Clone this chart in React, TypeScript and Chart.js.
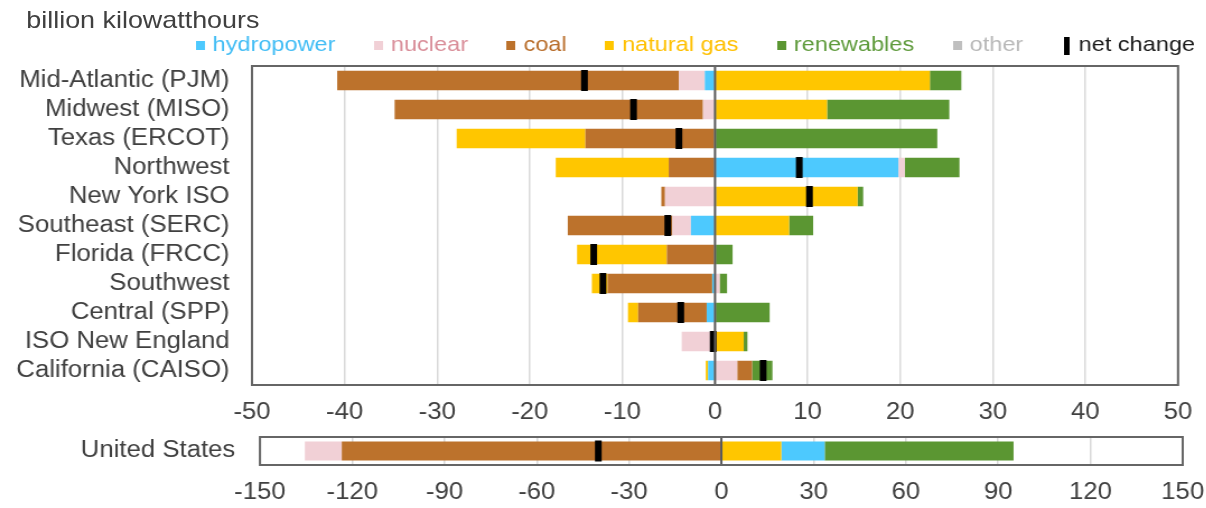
import React, { useEffect, useRef } from "react";
import { Chart, registerables } from "chart.js";

Chart.register(...registerables);

// ---------------- data ----------------
const regions = [
  "Mid-Atlantic (PJM)",
  "Midwest (MISO)",
  "Texas (ERCOT)",
  "Northwest",
  "New York ISO",
  "Southeast (SERC)",
  "Florida (FRCC)",
  "Southwest",
  "Central (SPP)",
  "ISO New England",
  "California (CAISO)",
];
const hydropower = [-1.1, 0, 0, 19.8, 0.1, -2.6, 0, -0.3, -0.9, 0, -0.75];
const nuclear = [-2.8, -1.3, 0, 0.7, -5.4, -2.0, 0, 0.5, 0, -3.6, 2.4];
const coal = [-36.9, -33.3, -14.0, -5.0, -0.4, -11.3, -5.2, -11.3, -7.4, 0, 1.6];
const naturalGas = [23.2, 12.1, -13.9, -12.2, 15.3, 8.0, -9.7, -1.7, -1.1, 3.1, -0.25];
const renewables = [3.4, 13.2, 24.0, 5.9, 0.6, 2.6, 1.9, 0.8, 5.9, 0.4, 2.2];
const other = [0, 0, 0, 0, 0, 0, 0, 0, 0, 0, 0];
const netChange = [-14.1, -8.8, -3.9, 9.1, 10.2, -5.1, -13.1, -12.1, -3.7, -0.2, 5.2];
const regionTickValues = [-50, -40, -30, -20, -10, 0, 10, 20, 30, 40, 50];

const usCategory = ["United States"];
const usHydropower = [14.1];
const usNuclear = [-12.0];
const usCoal = [-123.4];
const usNaturalGas = [19.5];
const usRenewables = [61.4];
const usOther = [0];
const usNetChange = [-40.0];
const usTickValues = [-150, -120, -90, -60, -30, 0, 30, 60, 90, 120, 150];

const seriesNames = ["hydropower", "nuclear", "coal", "natural gas", "renewables", "other", "net change"];
const unitLabel = "billion kilowatthours";

// ---------------- styles ----------------
const seriesColors = ["#4dc9fe", "#f1d0d6", "#bc722c", "#ffc600", "#5b9632", "#bfbfbf", "#000000"];
const legendTextColors = ["#42bdf5", "#d98e99", "#b86d2a", "#ffc000", "#5f9b3c", "#b8b8b8", "#1a1a1a"];
const S = 1.12;
const LW = 1206 / S;
const FONT = '"Liberation Sans", Arial, sans-serif';
const TEXT = "#404040";

const TOP_CANVAS_Y = -5;
const TOP_W = 1105;
const TOP_H = 440;

const framePlugin = {
  id: "frameAndZero",
  afterDatasetsDraw(chart: any) {
    const { ctx, chartArea: a, scales } = chart;
    const x0 = scales.x.getPixelForValue(0);
    ctx.save();
    ctx.strokeStyle = "#595959";
    ctx.lineWidth = 2;
    ctx.beginPath();
    ctx.moveTo(x0, a.top);
    ctx.lineTo(x0, a.bottom);
    ctx.stroke();
    ctx.strokeStyle = "#666666";
    ctx.lineWidth = 2;
    ctx.strokeRect(a.left, a.top, a.right - a.left, a.bottom - a.top);
    ctx.restore();
  },
};

function makeIcon(w: number, h: number, color: string) {
  const c = document.createElement("canvas");
  c.width = w;
  c.height = h;
  const g = c.getContext("2d")!;
  g.fillStyle = color;
  g.fillRect(0, 0, w, h);
  return c;
}

function barDs(label: string, data: number[], color: string, pct: number) {
  return {
    type: "bar" as const,
    label,
    data,
    backgroundColor: color,
    borderWidth: 0,
    barPercentage: pct,
    categoryPercentage: 1,
    order: 1,
  };
}

function netDs(data: number[]) {
  return {
    type: "line" as const,
    label: seriesNames[6],
    data,
    showLine: false,
    pointStyle: "line",
    pointRotation: 90,
    pointRadius: 10.5,
    pointBorderWidth: 6,
    pointBorderColor: "#000",
    pointBackgroundColor: "#000",
    borderColor: "#000",
    backgroundColor: "#000",
    stack: "net",
    order: 0,
  };
}

function gridColor(c: any) {
  return c.tick && c.tick.value === 0 ? "rgba(0,0,0,0)" : "#d9d9d9";
}

export default function App() {
  const topRef = useRef<HTMLCanvasElement>(null);
  const botRef = useRef<HTMLCanvasElement>(null);

  useEffect(() => {
    const icons = seriesColors.map((c, i) => (i === 6 ? makeIcon(5, 18, c) : makeIcon(8, 9, c)));
    const legendItems = () =>
      seriesNames.map((name, i) => ({
        text: name,
        fillStyle: seriesColors[i],
        strokeStyle: seriesColors[i],
        lineWidth: 0,
        pointStyle: icons[i],
        fontColor: legendTextColors[i],
        hidden: false,
        datasetIndex: i,
      }));

    const top = new Chart(topRef.current!, {
      type: "bar",
      data: {
        labels: regions,
        datasets: [
          barDs(seriesNames[0], hydropower, seriesColors[0], 0.67),
          barDs(seriesNames[1], nuclear, seriesColors[1], 0.67),
          barDs(seriesNames[2], coal, seriesColors[2], 0.67),
          barDs(seriesNames[3], naturalGas, seriesColors[3], 0.67),
          barDs(seriesNames[4], renewables, seriesColors[4], 0.67),
          barDs(seriesNames[5], other, seriesColors[5], 0.67),
          netDs(netChange),
        ] as any,
      },
      options: {
        indexAxis: "y",
        responsive: false,
        animation: false,
        events: [],
        layout: { padding: { top: 0, left: 0, right: 0, bottom: 0 } },
        plugins: {
          legend: {
            display: true,
            position: "top",
            align: "end",
            labels: {
              usePointStyle: true,
              pointStyleWidth: 1,
              padding: 38,
              font: { family: FONT, size: 21 },
              generateLabels: legendItems as any,
            },
          },
          tooltip: { enabled: false },
          title: { display: false },
        },
        scales: {
          x: {
            type: "linear",
            stacked: true,
            min: regionTickValues[0],
            max: regionTickValues[regionTickValues.length - 1],
            afterBuildTicks: (s: any) => {
              s.ticks = regionTickValues.map((v) => ({ value: v }));
            },
            grid: { color: gridColor, lineWidth: 1.5, drawTicks: false },
            border: { display: false },
            ticks: { font: { family: FONT, size: 23 }, color: TEXT, padding: 14, maxRotation: 0, autoSkip: false },
            afterFit: (s: any) => {
              s.height = 50;
              s.paddingRight = TOP_W - 1051.8;
            },
          },
          y: {
            type: "category",
            stacked: true,
            grid: { display: false, drawTicks: false },
            border: { display: false },
            ticks: { font: { family: FONT, size: 23 }, color: TEXT, padding: 20, autoSkip: false },
            afterFit: (s: any) => {
              s.width = 225;
              s.paddingTop = 66 - TOP_CANVAS_Y;
              s.paddingBottom = 0;
            },
          },
        },
      },
      plugins: [framePlugin],
    } as any);

    const bot = new Chart(botRef.current!, {
      type: "bar",
      data: {
        labels: usCategory,
        datasets: [
          barDs(seriesNames[2], usCoal, seriesColors[2], 0.68),
          barDs(seriesNames[3], usNaturalGas, seriesColors[3], 0.68),
          barDs(seriesNames[0], usHydropower, seriesColors[0], 0.68),
          barDs(seriesNames[1], usNuclear, seriesColors[1], 0.68),
          barDs(seriesNames[4], usRenewables, seriesColors[4], 0.68),
          barDs(seriesNames[5], usOther, seriesColors[5], 0.68),
          netDs(usNetChange),
        ] as any,
      },
      options: {
        indexAxis: "y",
        responsive: false,
        animation: false,
        events: [],
        layout: { padding: { top: 17, left: 0, right: 0, bottom: 0 } },
        plugins: {
          legend: { display: false },
          tooltip: { enabled: false },
          title: { display: false },
        },
        scales: {
          x: {
            type: "linear",
            stacked: true,
            min: usTickValues[0],
            max: usTickValues[usTickValues.length - 1],
            afterBuildTicks: (s: any) => {
              s.ticks = usTickValues.map((v) => ({ value: v }));
            },
            grid: { color: gridColor, lineWidth: 1.5, drawTicks: false },
            border: { display: false },
            ticks: { font: { family: FONT, size: 23 }, color: TEXT, padding: 14, maxRotation: 0, autoSkip: false },
            afterFit: (s: any) => {
              s.height = 43;
              s.paddingRight = 1077 - 1056;
            },
          },
          y: {
            type: "category",
            stacked: true,
            grid: { display: false, drawTicks: false },
            border: { display: false },
            ticks: { font: { family: FONT, size: 23 }, color: TEXT, padding: 22 },
            afterFit: (s: any) => {
              s.width = 232.1;
              s.paddingTop = 0;
              s.paddingBottom = 0;
            },
          },
        },
      },
      plugins: [framePlugin],
    } as any);

    return () => {
      top.destroy();
      bot.destroy();
    };
  }, []);

  return (
    <div
      style={{
        position: "absolute",
        left: 0,
        top: 0,
        width: 1206,
        height: 508,
        overflow: "hidden",
        background: "#ffffff",
      }}
    >
      <div
        style={{
          position: "absolute",
          left: 0,
          top: 0,
          width: LW,
          height: 508,
          transform: `scaleX(${S})`,
          transformOrigin: "0 0",
        }}
      >
        <canvas
          ref={topRef}
          width={TOP_W}
          height={TOP_H}
          style={{ position: "absolute", left: 0, top: TOP_CANVAS_Y, width: TOP_W, height: TOP_H }}
        />
        <canvas
          ref={botRef}
          width={1077}
          height={88}
          style={{ position: "absolute", left: 0, top: 420, width: 1077, height: 88 }}
        />
        <div
          style={{
            position: "absolute",
            left: 23.5,
            top: 7,
            fontFamily: FONT,
            fontSize: 24,
            lineHeight: "26px",
            color: TEXT,
            whiteSpace: "nowrap",
          }}
        >
          {unitLabel}
        </div>
      </div>
    </div>
  );
}
